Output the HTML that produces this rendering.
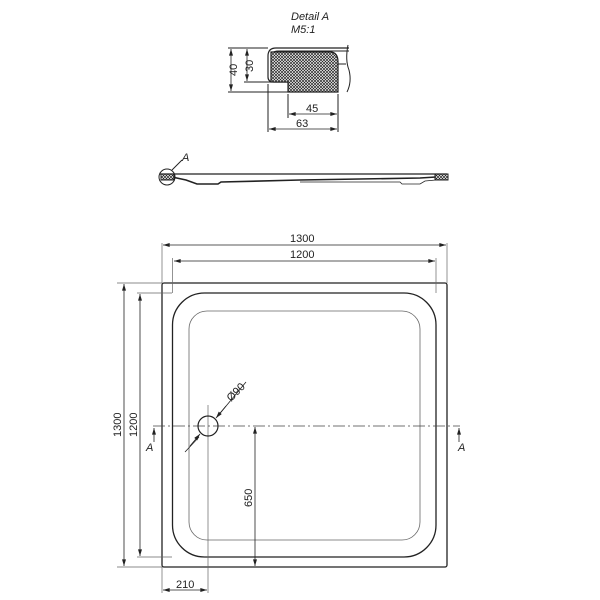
<!DOCTYPE html>
<html><head><style>body{margin:0;background:#fff}svg{display:block}text{font-family:"Liberation Sans",sans-serif;fill:#222}</style></head>
<body>
<svg width="600" height="600" viewBox="0 0 600 600" xmlns="http://www.w3.org/2000/svg">
<defs>
<pattern id="h" width="3" height="3" patternUnits="userSpaceOnUse">
<rect width="3" height="3" fill="#fff"/><path d="M0 0L3 3M3 0L0 3" stroke="#222" stroke-width="0.7"/></pattern>
<marker id="a" viewBox="0 0 10 6" refX="10" refY="3" markerUnits="userSpaceOnUse" markerWidth="10" markerHeight="4" orient="auto-start-reverse"><path d="M0 0L10 3L0 6z" fill="#222"/></marker>
</defs>
<!-- Detail A -->
<text x="291" y="20" font-size="11" font-style="italic">Detail  A</text>
<text x="291" y="33" font-size="11" font-style="italic">M5:1</text>
<g stroke="#222" fill="none" stroke-width="1">
<path d="M349 48H276Q268 48 268 56V77Q268 82 274 82H288" stroke-width="1.2"/>
<path d="M349 51H278Q271 51 271 58V75Q271 79 276 79H283"/>
<path d="M271 52H330Q338 52 338 62V92H288V82H271V56z" fill="url(#h)" stroke-width="1.2"/>
<path d="M338 64H346M348 45Q345 60 349 70Q352 82 347 92"/>
<path d="M228 48H268M244 82H288M228 92H288M268 84V132M288 94V118M338 94V132"/>
<g stroke-width="0.8" marker-start="url(#a)" marker-end="url(#a)">
<path d="M231 49V91"/><path d="M247 49V81"/><path d="M289 114H337"/><path d="M269 129H337"/>
</g>
</g>
<g font-size="11">
<text transform="translate(237 76) rotate(-90)">40</text>
<text transform="translate(253 72) rotate(-90)">30</text>
<text x="306" y="112">45</text>
<text x="296" y="127">63</text>
</g>
<!-- section -->
<g stroke="#222" fill="none">
<path d="M160 174H447" stroke-width="1.2"/>
<path d="M172 177L186 180L197 184H218L221 182L300 180L420 178L436 177" stroke-width="1.6"/>
<path d="M300 182L400 182L402 184H420L425 181L436 180" stroke-width="0.8"/>
<rect x="161" y="174" width="13" height="6" fill="url(#h)"/>
<rect x="435" y="174" width="13" height="6" fill="url(#h)"/>
<circle cx="167" cy="177" r="8"/>
<path d="M172 170L182 160"/>
</g>
<text x="182" y="161" font-size="11" font-style="italic">A</text>
<!-- plan -->
<g stroke="#222" fill="none">
<rect x="162" y="283" width="285" height="284" rx="2" stroke-width="1.3"/>
<rect x="172.5" y="293" width="263.5" height="264" rx="32" stroke-width="1.3"/>
<rect x="189" y="311" width="231" height="229" rx="18" stroke="#666" stroke-width="0.8"/>
<path d="M162 243V283M172.5 258V293M436 258V293M447 243V283M117 283H162M117 567H162M137 293H172M137 557H172M162 567V593M208 405V593" stroke="#666" stroke-width="0.7"/>
<g stroke-width="0.8" marker-start="url(#a)" marker-end="url(#a)">
<path d="M163 245H446"/><path d="M174 261H435"/><path d="M124 284V566"/><path d="M140 294V556"/><path d="M255 427V566"/><path d="M163 590H207"/>
</g>
<path d="M153 426H460" stroke="#444" stroke-width="0.7" stroke-dasharray="12 3 2 3"/>
<circle cx="208" cy="426" r="10" stroke-width="1.2"/>
<path d="M185 452L199 437M217 417L246 382" stroke-width="0.8"/>
<path d="M190 446L200 434" marker-end="url(#a)" stroke-width="0.8"/>
<path d="M226 406L216 418" marker-end="url(#a)" stroke-width="0.8"/>
<path d="M154 442V428" marker-end="url(#a)" stroke-width="0.8"/>
<path d="M459 442V428" marker-end="url(#a)" stroke-width="0.8"/>
</g>
<g font-size="11">
<text x="290" y="242">1300</text>
<text x="290" y="258">1200</text>
<text transform="translate(121 437) rotate(-90)">1300</text>
<text transform="translate(137 437) rotate(-90)">1200</text>
<text transform="translate(252 507) rotate(-90)">650</text>
<text x="176" y="588">210</text>
<text transform="translate(231 402) rotate(-45)">Ø90</text>
<text x="146" y="451" font-style="italic">A</text>
<text x="458" y="451" font-style="italic">A</text>
</g>
</svg>
</body></html>
